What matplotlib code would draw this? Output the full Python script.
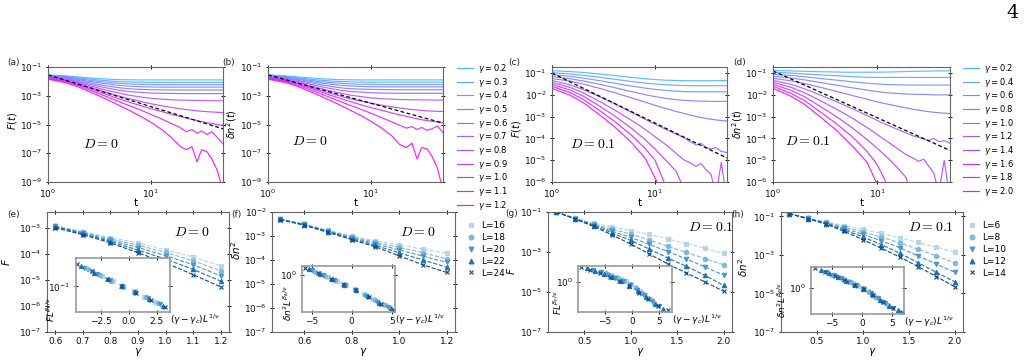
import numpy as np
import matplotlib
matplotlib.use("Agg")
import matplotlib.pyplot as plt
from matplotlib.lines import Line2D
from matplotlib.ticker import NullLocator, FixedLocator

# ---------------- data ----------------
t = [1, 1.5, 2, 3, 4, 5, 6, 8, 10, 13, 16, 19, 22, 25, 28, 31, 35, 39, 44, 50]

gam_ab = [0.2, 0.3, 0.4, 0.5, 0.6, 0.7, 0.8, 0.9, 1.0, 1.1, 1.2]
gam_cd = [0.2, 0.4, 0.6, 0.8, 1.0, 1.2, 1.4, 1.6, 1.8, 2.0]

# log10 F(t), D = 0
logF_a = [
    [-1.55, -1.62, -1.70, -1.80, -1.85, -1.88, -1.89, -1.90, -1.90, -1.90, -1.90, -1.90, -1.90, -1.90, -1.90, -1.90, -1.90, -1.90, -1.90, -1.90],
    [-1.57, -1.66, -1.76, -1.90, -1.97, -2.02, -2.04, -2.06, -2.07, -2.07, -2.07, -2.07, -2.07, -2.07, -2.07, -2.07, -2.07, -2.07, -2.07, -2.07],
    [-1.60, -1.70, -1.82, -1.99, -2.08, -2.14, -2.18, -2.21, -2.22, -2.23, -2.23, -2.23, -2.23, -2.23, -2.23, -2.23, -2.23, -2.23, -2.23, -2.23],
    [-1.62, -1.74, -1.88, -2.08, -2.20, -2.28, -2.33, -2.37, -2.39, -2.40, -2.40, -2.40, -2.40, -2.40, -2.40, -2.40, -2.40, -2.40, -2.40, -2.40],
    [-1.65, -1.79, -1.95, -2.20, -2.35, -2.45, -2.51, -2.56, -2.58, -2.59, -2.60, -2.60, -2.60, -2.60, -2.60, -2.60, -2.60, -2.60, -2.60, -2.60],
    [-1.68, -1.84, -2.02, -2.32, -2.50, -2.62, -2.70, -2.77, -2.81, -2.83, -2.84, -2.85, -2.85, -2.85, -2.85, -2.85, -2.85, -2.85, -2.85, -2.85],
    [-1.71, -1.89, -2.09, -2.44, -2.67, -2.83, -2.95, -3.09, -3.18, -3.24, -3.28, -3.30, -3.31, -3.32, -3.33, -3.33, -3.34, -3.34, -3.35, -3.35],
    [-1.74, -1.94, -2.16, -2.56, -2.84, -3.04, -3.19, -3.40, -3.56, -3.71, -3.82, -3.90, -3.96, -4.01, -4.05, -4.08, -4.11, -4.13, -4.15, -4.17],
    [-1.77, -1.99, -2.23, -2.68, -3.00, -3.24, -3.42, -3.70, -3.90, -4.12, -4.30, -4.44, -4.55, -4.65, -4.73, -4.80, -4.88, -4.92, -5.02, -5.05],
    [-1.81, -2.04, -2.31, -2.80, -3.16, -3.44, -3.66, -4.00, -4.30, -4.65, -4.95, -5.20, -5.50, -5.35, -5.60, -5.45, -5.70, -5.50, -5.90, -6.35],
    [-1.85, -2.10, -2.40, -2.95, -3.36, -3.70, -3.98, -4.45, -4.85, -5.40, -5.95, -6.50, -6.75, -6.55, -7.60, -6.75, -6.90, -7.40, -8.20, -9.60],
]
fit_a_t = [1, 50]
fit_a_y = [-1.55, -5.30]

# log10 dn^2(t), D = 0
logN_b = [
    [-1.55, -1.62, -1.70, -1.80, -1.85, -1.88, -1.89, -1.90, -1.90, -1.90, -1.90, -1.90, -1.90, -1.90, -1.90, -1.90, -1.90, -1.90, -1.90, -1.90],
    [-1.57, -1.66, -1.76, -1.90, -1.97, -2.01, -2.03, -2.05, -2.06, -2.06, -2.06, -2.06, -2.06, -2.06, -2.06, -2.06, -2.06, -2.06, -2.06, -2.06],
    [-1.60, -1.70, -1.82, -1.99, -2.08, -2.13, -2.17, -2.20, -2.21, -2.22, -2.22, -2.22, -2.22, -2.22, -2.22, -2.22, -2.22, -2.22, -2.22, -2.22],
    [-1.62, -1.74, -1.88, -2.08, -2.19, -2.27, -2.31, -2.35, -2.37, -2.38, -2.38, -2.38, -2.38, -2.38, -2.38, -2.38, -2.38, -2.38, -2.38, -2.38],
    [-1.65, -1.79, -1.95, -2.19, -2.34, -2.44, -2.50, -2.54, -2.56, -2.57, -2.58, -2.58, -2.58, -2.58, -2.58, -2.58, -2.58, -2.58, -2.58, -2.58],
    [-1.68, -1.84, -2.02, -2.31, -2.49, -2.61, -2.69, -2.75, -2.79, -2.81, -2.82, -2.83, -2.83, -2.83, -2.83, -2.83, -2.83, -2.83, -2.83, -2.83],
    [-1.71, -1.89, -2.09, -2.43, -2.66, -2.81, -2.93, -3.06, -3.15, -3.21, -3.24, -3.26, -3.27, -3.28, -3.28, -3.29, -3.29, -3.30, -3.30, -3.30],
    [-1.74, -1.94, -2.16, -2.55, -2.82, -3.02, -3.17, -3.37, -3.52, -3.67, -3.77, -3.85, -3.91, -3.96, -3.99, -4.02, -4.05, -4.07, -4.08, -4.10],
    [-1.77, -1.98, -2.21, -2.64, -2.95, -3.18, -3.36, -3.63, -3.83, -4.03, -4.20, -4.33, -4.43, -4.52, -4.60, -4.67, -4.72, -4.78, -4.82, -4.88],
    [-1.81, -2.03, -2.29, -2.77, -3.12, -3.39, -3.61, -3.94, -4.22, -4.55, -4.83, -5.05, -5.25, -5.15, -5.35, -5.20, -5.40, -5.30, -5.10, -5.55],
    [-1.85, -2.09, -2.38, -2.92, -3.32, -3.65, -3.93, -4.38, -4.78, -5.30, -5.80, -6.40, -6.60, -6.30, -7.40, -6.60, -6.70, -7.20, -8.00, -9.60],
]
fit_b_t = [1, 50]
fit_b_y = [-1.55, -4.90]

# log10 F(t), D = 0.1
logF_c = [
    [-0.89, -0.93, -0.97, -1.05, -1.11, -1.16, -1.20, -1.26, -1.30, -1.33, -1.34, -1.35, -1.35, -1.35, -1.35, -1.35, -1.35, -1.35, -1.34, -1.34],
    [-0.98, -1.04, -1.10, -1.20, -1.28, -1.34, -1.39, -1.46, -1.50, -1.54, -1.56, -1.57, -1.58, -1.58, -1.58, -1.58, -1.58, -1.58, -1.58, -1.58],
    [-1.07, -1.15, -1.23, -1.36, -1.46, -1.54, -1.60, -1.69, -1.75, -1.80, -1.83, -1.85, -1.86, -1.86, -1.86, -1.86, -1.86, -1.86, -1.86, -1.86],
    [-1.16, -1.26, -1.36, -1.53, -1.66, -1.77, -1.86, -1.99, -2.08, -2.17, -2.22, -2.25, -2.27, -2.28, -2.29, -2.29, -2.30, -2.30, -2.30, -2.30],
    [-1.25, -1.37, -1.50, -1.72, -1.89, -2.03, -2.15, -2.33, -2.48, -2.64, -2.76, -2.85, -2.93, -2.99, -3.04, -3.08, -3.12, -3.15, -3.18, -3.20],
    [-1.34, -1.54, -1.75, -2.12, -2.40, -2.63, -2.82, -3.12, -3.35, -3.60, -3.80, -3.96, -4.15, -4.30, -4.22, -4.40, -4.48, -4.42, -4.60, -4.65],
    [-1.43, -1.66, -1.90, -2.34, -2.68, -2.96, -3.19, -3.58, -3.92, -4.32, -4.68, -4.98, -5.12, -5.28, -5.15, -5.42, -5.65, -6.60, -5.10, -6.90],
    [-1.52, -1.78, -2.05, -2.56, -2.95, -3.28, -3.56, -4.05, -4.48, -5.05, -5.50, -6.30, -7.00, -7.00, -7.00, -7.00, -7.00, -7.00, -7.00, -7.00],
    [-1.61, -1.90, -2.20, -2.77, -3.20, -3.57, -3.88, -4.45, -5.00, -6.30, -7.00, -7.00, -7.00, -7.00, -7.00, -7.00, -7.00, -7.00, -7.00, -7.00],
    [-1.70, -2.02, -2.35, -2.97, -3.45, -3.86, -4.22, -4.90, -5.80, -7.00, -7.00, -7.00, -7.00, -7.00, -7.00, -7.00, -7.00, -7.00, -7.00, -7.00],
]
fit_c_t = [1, 50]
fit_c_y = [-1.00, -4.90]

# log10 dn^2(t), D = 0.1
logN_d = [
    [-0.88, -0.90, -0.92, -0.94, -0.95, -0.96, -0.96, -0.96, -0.96, -0.95, -0.94, -0.93, -0.92, -0.92, -0.91, -0.91, -0.90, -0.90, -0.90, -0.90],
    [-0.97, -1.00, -1.04, -1.09, -1.12, -1.15, -1.17, -1.19, -1.20, -1.20, -1.20, -1.20, -1.20, -1.20, -1.20, -1.20, -1.20, -1.20, -1.20, -1.20],
    [-1.06, -1.11, -1.17, -1.26, -1.32, -1.37, -1.41, -1.46, -1.50, -1.53, -1.54, -1.55, -1.55, -1.55, -1.55, -1.55, -1.55, -1.55, -1.55, -1.55],
    [-1.15, -1.23, -1.31, -1.45, -1.55, -1.63, -1.69, -1.78, -1.85, -1.91, -1.94, -1.96, -1.97, -1.98, -1.98, -1.99, -2.00, -2.00, -2.00, -2.00],
    [-1.24, -1.36, -1.48, -1.68, -1.83, -1.95, -2.05, -2.20, -2.32, -2.44, -2.53, -2.60, -2.66, -2.70, -2.74, -2.77, -2.80, -2.82, -2.84, -2.86],
    [-1.33, -1.52, -1.72, -2.05, -2.30, -2.50, -2.67, -2.95, -3.17, -3.42, -3.60, -3.75, -3.88, -3.95, -4.02, -4.10, -4.00, -4.15, -4.10, -4.22],
    [-1.42, -1.66, -1.90, -2.32, -2.64, -2.90, -3.12, -3.50, -3.82, -4.20, -4.50, -4.75, -4.90, -5.05, -4.95, -5.25, -5.60, -6.50, -5.00, -6.80],
    [-1.51, -1.80, -2.08, -2.60, -2.98, -3.30, -3.58, -4.05, -4.45, -4.95, -5.40, -5.80, -7.00, -7.00, -7.00, -7.00, -7.00, -7.00, -7.00, -7.00],
    [-1.60, -1.94, -2.26, -2.86, -3.30, -3.68, -4.00, -4.60, -5.20, -6.30, -7.00, -7.00, -7.00, -7.00, -7.00, -7.00, -7.00, -7.00, -7.00, -7.00],
    [-1.70, -2.07, -2.43, -3.10, -3.60, -4.05, -4.43, -5.10, -6.10, -7.00, -7.00, -7.00, -7.00, -7.00, -7.00, -7.00, -7.00, -7.00, -7.00, -7.00],
]
fit_d_t = [1, 50]
fit_d_y = [-0.90, -4.55]

# ---- bottom row ----
L_ef = [16, 18, 20, 22, 24]
L_gh = [6, 8, 10, 12, 14]
gam_e = [0.6, 0.7, 0.8, 0.9, 1.0, 1.1, 1.2]
gam_f = [0.5, 0.6, 0.7, 0.8, 0.9, 1.0, 1.1, 1.2]
gam_gh = [0.2, 0.4, 0.6, 0.8, 1.0, 1.2, 1.4, 1.6, 1.8, 2.0]

logF_e = [
    [-2.92, -3.15, -3.38, -3.58, -3.85, -4.12, -4.46],
    [-2.93, -3.18, -3.43, -3.67, -3.95, -4.27, -4.65],
    [-2.95, -3.20, -3.48, -3.76, -4.07, -4.42, -4.85],
    [-2.97, -3.23, -3.53, -3.86, -4.20, -4.60, -5.05],
    [-3.00, -3.27, -3.58, -3.96, -4.35, -4.80, -5.27],
]
logN_f = [
    [-2.30, -2.50, -2.76, -3.00, -3.20, -3.37, -3.55, -3.72],
    [-2.30, -2.51, -2.78, -3.03, -3.26, -3.47, -3.70, -3.95],
    [-2.31, -2.52, -2.80, -3.07, -3.32, -3.58, -3.84, -4.10],
    [-2.31, -2.53, -2.82, -3.11, -3.39, -3.70, -4.00, -4.30],
    [-2.32, -2.55, -2.85, -3.15, -3.45, -3.83, -4.20, -4.52],
]
logF_g = [
    [-1.00, -1.30, -1.55, -1.75, -1.93, -2.12, -2.35, -2.58, -2.82, -3.07],
    [-1.00, -1.32, -1.60, -1.86, -2.10, -2.40, -2.72, -3.02, -3.33, -3.64],
    [-1.00, -1.33, -1.64, -1.96, -2.27, -2.62, -2.98, -3.35, -3.75, -4.15],
    [-1.00, -1.34, -1.68, -2.05, -2.42, -2.85, -3.30, -3.72, -4.17, -4.67],
    [-1.00, -1.35, -1.72, -2.15, -2.60, -3.10, -3.60, -4.05, -4.50, -4.96],
]
logN_h = [
    [-0.85, -1.08, -1.28, -1.48, -1.67, -1.88, -2.10, -2.35, -2.60, -2.84],
    [-0.85, -1.09, -1.31, -1.55, -1.80, -2.07, -2.36, -2.70, -3.05, -3.41],
    [-0.85, -1.10, -1.34, -1.62, -1.93, -2.26, -2.62, -3.05, -3.47, -3.90],
    [-0.86, -1.11, -1.37, -1.70, -2.06, -2.46, -2.90, -3.40, -3.90, -4.40],
    [-0.86, -1.12, -1.40, -1.78, -2.20, -2.65, -3.10, -3.60, -4.12, -4.65],
]

# scaling-collapse parameters (gamma_c, 1/nu) per panel
collapse_e = (0.95, 0.81)
collapse_f = (0.866, 0.87)
collapse_g = (1.26, 0.83)
collapse_h = (1.168, 0.79)

# collapsed ordinate (log10), one row per L
ins_e = [
    [-0.44, -0.63, -0.82, -1.01, -1.19, -1.38, -1.57],
    [-0.37, -0.58, -0.79, -1.00, -1.20, -1.41, -1.62],
    [-0.31, -0.53, -0.76, -0.99, -1.21, -1.44, -1.67],
    [-0.24, -0.49, -0.73, -0.98, -1.22, -1.47, -1.71],
    [-0.18, -0.44, -0.71, -0.97, -1.23, -1.49, -1.76],
]
ins_f = [
    [0.10, -0.12, -0.35, -0.58, -0.82, -1.10, -1.38, -1.62],
    [0.18, -0.06, -0.31, -0.57, -0.84, -1.14, -1.45, -1.72],
    [0.26, 0.00, -0.28, -0.56, -0.85, -1.18, -1.51, -1.81],
    [0.33, 0.05, -0.24, -0.55, -0.87, -1.22, -1.57, -1.90],
    [0.40, 0.10, -0.21, -0.54, -0.88, -1.26, -1.63, -1.99],
]
ins_g = [
    [0.62, 0.50, 0.37, 0.23, 0.06, -0.15, -0.40, -0.68, -0.98, -1.28],
    [0.78, 0.63, 0.46, 0.27, 0.06, -0.20, -0.50, -0.85, -1.22, -1.58],
    [0.92, 0.73, 0.53, 0.31, 0.06, -0.25, -0.62, -1.04, -1.45, -1.86],
    [1.04, 0.83, 0.60, 0.34, 0.06, -0.30, -0.72, -1.18, -1.66, -2.08],
    [1.15, 0.92, 0.66, 0.37, 0.06, -0.34, -0.82, -1.32, -1.83, -2.14],
]
ins_h = [
    [0.80, 0.66, 0.52, 0.36, 0.17, -0.03, -0.26, -0.52, -0.78, -1.02],
    [1.00, 0.82, 0.63, 0.43, 0.20, -0.04, -0.33, -0.65, -0.97, -1.26],
    [1.18, 0.96, 0.73, 0.48, 0.22, -0.05, -0.40, -0.78, -1.15, -1.50],
    [1.34, 1.08, 0.82, 0.53, 0.23, -0.06, -0.47, -0.90, -1.34, -1.66],
    [1.49, 1.19, 0.89, 0.58, 0.25, -0.07, -0.52, -1.02, -1.48, -1.80],
]

# ---------------- drawing ----------------
W, H = 1024, 364
fig = plt.figure(figsize=(W / 100, H / 100), dpi=100)

def rect(l, r, top, bot):
    return [l / W, 1 - bot / H, (r - l) / W, (bot - top) / H]

TXT = '#222222'
TFS = 6.5

def style(ax, fs=TFS):
    ax.tick_params(which='major', direction='inout', top=True, right=True, length=3.5,
                   width=0.7, labelsize=fs, colors='#111111', pad=2)
    for s in ax.spines.values():
        s.set_color('#666666')
        s.set_linewidth(0.8)

cool = plt.get_cmap('cool')
blues = plt.get_cmap('Blues')

def top_panel(r, curves, gams, fit_t, fit_y, ylim, yticks, ylabel, ylab_pos, dtext, dpos):
    ax = fig.add_axes(r)
    cols = cool(np.linspace(0.28, 0.95, len(gams)))
    for k, g in enumerate(gams):
        ax.plot(t, 10 ** np.array(curves[k]), color=cols[k], lw=0.85, alpha=0.9)
    ax.plot(fit_t, 10 ** np.array(fit_y), color='black', ls='--', lw=0.9, dashes=(3, 2))
    ax.set_xscale('log')
    ax.set_yscale('log')
    ax.set_xlim(1, 50)
    ax.set_ylim(*ylim)
    ax.xaxis.set_major_locator(FixedLocator([1, 10]))
    ax.yaxis.set_major_locator(FixedLocator(yticks))
    ax.xaxis.set_minor_locator(NullLocator())
    ax.yaxis.set_minor_locator(NullLocator())
    style(ax)
    ax.set_xlabel('t', fontsize=7.5, labelpad=-1)
    ax.set_ylabel(ylabel, fontsize=7)
    ax.yaxis.set_label_coords(*ylab_pos)
    ax.text(dpos[0], dpos[1], dtext, transform=ax.transAxes, fontsize=10, math_fontfamily='cm')
    return ax, cols

axa, cols_ab = top_panel(rect(48, 223, 67, 182), logF_a, gam_ab, fit_a_t, fit_a_y, (1e-9, 1e-1),
                         [1e-1, 1e-3, 1e-5, 1e-7, 1e-9], '$F(t)$', (-0.165, 0.53),
                         '$D=0$', (0.2, 0.3))
axb, _ = top_panel(rect(268, 443, 67, 182), logN_b, gam_ab, fit_b_t, fit_b_y, (1e-9, 1e-1),
                   [1e-1, 1e-3, 1e-5, 1e-7, 1e-9], r'$\delta n^2(t)$', (-0.165, 0.5),
                   '$D=0$', (0.14, 0.32))
axc, cols_cd = top_panel(rect(552, 727, 67, 182), logF_c, gam_cd, fit_c_t, fit_c_y, (1e-6, 0.19),
                         [1e-1, 1e-2, 1e-3, 1e-4, 1e-5, 1e-6], '$F(t)$', (-0.165, 0.46),
                         '$D=0.1$', (0.1, 0.3))
axd, _ = top_panel(rect(773, 950, 67, 182), logN_d, gam_cd, fit_d_t, fit_d_y, (1e-6, 0.19),
                   [1e-1, 1e-2, 1e-3, 1e-4, 1e-5, 1e-6], r'$\delta n^2(t)$', (-0.16, 0.5),
                   '$D=0.1$', (0.07, 0.32))

def line_legend(ax, gams, cols, x, y):
    hs = [Line2D([], [], color=cols[k], lw=0.85) for k in range(len(gams))]
    labs = [r'$\gamma = %.1f$' % g for g in gams]
    ax.legend(hs, labs, loc='upper left', bbox_to_anchor=(x / W, 1 - y / H),
              bbox_transform=fig.transFigure, frameon=False, fontsize=6,
              handlelength=1.9, handletextpad=0.6, labelspacing=0.08, borderpad=0,
              borderaxespad=0)

line_legend(axb, gam_ab, cols_ab, 457, 62)
line_legend(axd, gam_cd, cols_cd, 963, 62)

markers = ['s', 'o', 'v', '^', 'x']

def bottom_panel(r, gams, Ls, vals, xlim, xticks, ylim, yticks, ylabel, ylab_pos, dtext, dpos,
                 ins_r, collapse, ins_vals, ins_xlim, ins_xticks, ins_ylim, ins_ytick,
                 ins_ylabel, ins_ylab_pos):
    ax = fig.add_axes(r)
    cols = blues(np.linspace(0.3, 0.9, len(Ls)))
    for k, L in enumerate(Ls):
        ax.plot(gams, 10 ** np.array(vals[k]), ls='--', lw=0.8, color=cols[k],
                marker=markers[k], ms=3.2, mew=0.8)
    ax.set_yscale('log')
    ax.set_xlim(*xlim)
    ax.set_ylim(*ylim)
    ax.set_xticks(xticks)
    ax.yaxis.set_major_locator(FixedLocator(yticks))
    ax.yaxis.set_minor_locator(NullLocator())
    style(ax)
    ax.set_xlabel(r'$\gamma$', fontsize=7.5, labelpad=0)
    ax.set_ylabel(ylabel, fontsize=7.5)
    ax.yaxis.set_label_coords(*ylab_pos)
    ax.text(dpos[0], dpos[1], dtext, transform=ax.transAxes, fontsize=10, math_fontfamily='cm')
    # inset
    ia = fig.add_axes(ins_r)
    gc, inv_nu = collapse
    for k, L in enumerate(Ls):
        xs = (np.array(gams) - gc) * L ** inv_nu
        ia.plot(xs, 10 ** np.array(ins_vals[k]), ls='none', color=cols[k],
                marker=markers[k], ms=3.0, mew=0.8)
    ia.set_yscale('log')
    ia.set_xlim(*ins_xlim)
    ia.set_ylim(*ins_ylim)
    ia.set_xticks(ins_xticks)
    ia.yaxis.set_major_locator(FixedLocator([ins_ytick]))
    ia.yaxis.set_minor_locator(NullLocator())
    style(ia)
    for s in ia.spines.values():
        s.set_color('#999999')
        s.set_linewidth(1.2)
    ia.set_xlabel(r'$(\gamma-\gamma_c)L^{1/\nu}$', fontsize=6.5, ha='left')
    ia.xaxis.set_label_coords(1.0, -0.02)
    ia.xaxis.label.set_va('top')
    ia.set_ylabel(ins_ylabel, fontsize=6.5)
    ia.yaxis.set_label_coords(*ins_ylab_pos)
    return ax, cols

axe, cols_ef = bottom_panel(rect(47, 229, 212, 332), gam_e, L_ef, logF_e, (0.57, 1.23),
                            [0.6, 0.7, 0.8, 0.9, 1.0, 1.1, 1.2], (1e-7, 4e-3),
                            [1e-3, 1e-4, 1e-5, 1e-6, 1e-7], '$F$', (-0.19, 0.58),
                            '$D=0$', (0.7, 0.8),
                            rect(76, 170, 258, 312), collapse_e, ins_e, (-4.7, 3.7),
                            [-2.5, 0.0, 2.5], (10 ** -1.95, 10 ** 0.05), 1e-1,
                            r'$FL^{\beta_F/\nu}$', (-0.2, 0.04))
axf, _ = bottom_panel(rect(272, 455, 212, 332), gam_f, L_ef, logN_f, (0.465, 1.235),
                      [0.6, 0.8, 1.0, 1.2], (1e-7, 1e-2),
                      [1e-2, 1e-3, 1e-4, 1e-5, 1e-6, 1e-7], r'$\delta n^2$', (-0.16, 0.68),
                      '$D=0$', (0.7, 0.8),
                      rect(302, 395, 266, 312), collapse_f, ins_f, (-6.2, 5.4),
                      [-5, 0, 5], (10 ** -2.1, 10 ** 0.5), 1e0,
                      r'$\delta n^2L^{\beta_\delta/\nu}$', (-0.09, 0.2))
axg, cols_gh = bottom_panel(rect(548, 732, 212, 332), gam_gh, L_gh, logF_g, (0.11, 2.09),
                            [0.5, 1.0, 1.5, 2.0], (1e-7, 1e-1),
                            [1e-1, 1e-3, 1e-5, 1e-7], '$F$', (-0.17, 0.51),
                            '$D=0.1$', (0.76, 0.84),
                            rect(578, 672, 266, 312), collapse_g, ins_g, (-10, 7.4),
                            [-5, 0, 5], (10 ** -2.3, 10 ** 1.2), 1e0,
                            r'$FL^{\beta_F/\nu}$', (-0.15, 0.2))
axh, _ = bottom_panel(rect(781, 963, 212, 332), gam_gh, L_gh, logN_h, (0.11, 2.09),
                      [0.5, 1.0, 1.5, 2.0], (1e-7, 0.17),
                      [1e-1, 1e-3, 1e-5, 1e-7], r'$\delta n^2$', (-0.17, 0.54),
                      '$D=0.1$', (0.7, 0.84),
                      rect(811, 904, 267, 314), collapse_h, ins_h, (-8.5, 7.0),
                      [-5, 0, 5], (10 ** -1.94, 10 ** 1.56), 1e0,
                      r'$\delta n^2L^{\beta_\delta/\nu}$', (-0.25, 0.3))

def marker_legend(ax, Ls, cols, x, y):
    hs = [Line2D([], [], ls='none', marker=markers[k], color=cols[k], ms=3.5, mew=0.8)
          for k in range(len(Ls))]
    labs = ['L=%d' % L for L in Ls]
    ax.legend(hs, labs, loc='upper left', bbox_to_anchor=(x / W, 1 - y / H),
              bbox_transform=fig.transFigure, frameon=False, fontsize=6.5,
              handlelength=1.0, handletextpad=0.7, labelspacing=0.32, borderpad=0,
              borderaxespad=0)

marker_legend(axf, L_ef, cols_ef, 466, 221)
marker_legend(axh, L_gh, cols_gh, 967, 221)

# panel labels
for lab, x, y in [('(a)', 7, 62), ('(b)', 222, 62), ('(c)', 508, 62), ('(d)', 733, 62),
                  ('(e)', 7, 215), ('(f)', 231, 215), ('(g)', 505, 214), ('(h)', 731, 215)]:
    fig.text(x / W, 1 - y / H, lab, fontsize=6.5, va='center', ha='left', color=TXT)

fig.text(1013 / W, 1 - 13 / H, '4', fontsize=14, family='DejaVu Serif', ha='center', va='center')

fig.savefig('out.png', dpi=100)
